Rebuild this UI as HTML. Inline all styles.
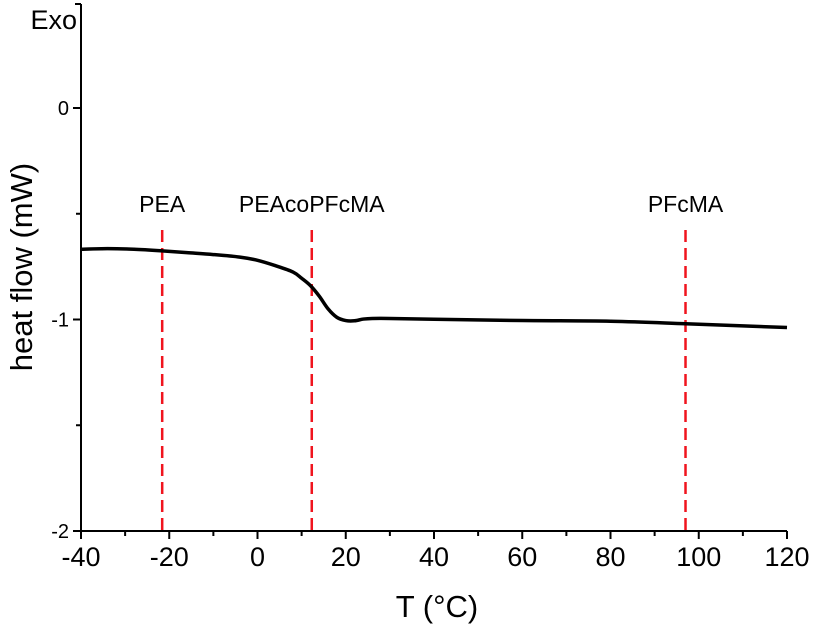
<!DOCTYPE html>
<html><head><meta charset="utf-8"><style>
html,body{margin:0;padding:0;background:#fff;}
svg{display:block;font-family:"Liberation Sans",Arial,sans-serif;}
</style></head><body>
<svg id="chart" width="814" height="633">
<g id="axes"></g><g id="marks"></g>
<text x="77" y="29" font-size="27" text-anchor="end">Exo</text>
<text x="437" y="617" font-size="31" text-anchor="middle">T (°C)</text>
<text transform="translate(32,267) rotate(-90)" font-size="31" text-anchor="middle">heat flow (mW)</text>
</svg>
<script>
const xTicks = [-40,-20,0,20,40,60,80,100,120];
const yTicks = [0,-1,-2];
const curveT = [-40,-34,-28,-22,-16,-10,-4,0,4,8,10,12,14,16,18,20,22,24,26,30,40,60,80,97,110,120];
const curveHF = [-0.668,-0.665,-0.668,-0.675,-0.684,-0.693,-0.705,-0.72,-0.745,-0.775,-0.805,-0.84,-0.89,-0.95,-0.99,-1.005,-1.006,-0.998,-0.995,-0.995,-0.999,-1.005,-1.008,-1.02,-1.03,-1.038];
const markerNames = ["PEA","PEAcoPFcMA","PFcMA"];
const markerT = [-21.6,12.3,97];
const NS="http://www.w3.org/2000/svg";
const X0=81,X1=787,Y0=108,YU=211.5;
function sx(t){return X0+(t+40)/160*(X1-X0);}
function sy(v){return Y0-v*YU;}
function mk(tag,attrs,parent){const e=document.createElementNS(NS,tag);for(const k in attrs)e.setAttribute(k,attrs[k]);parent.appendChild(e);return e;}
const axes=document.getElementById('axes'),marks=document.getElementById('marks');
const bottom=sy(-2);
let a=mk('path',{d:`M${X0},4 H${X0-6} M${X0},4 V${bottom} H${X1}`,stroke:'#000','stroke-width':2,fill:'none'},axes);


for(let t=-40;t<=120;t+=10){
  const major=(t%20===0);
  const tk=mk('line',{x1:sx(t),x2:sx(t),y1:bottom,y2:bottom+(major?8:5),stroke:'#000','stroke-width':2},axes);
  
  
}
xTicks.forEach(t=>{
  const l=mk('text',{x:sx(t),y:bottom+35,'font-size':27,'text-anchor':'middle'},axes);
  l.textContent=t;
  
  
});
for(let v=0;v>=-2;v-=0.5){
  const major=(Math.abs(v%1)<1e-9);
  const tk=mk('line',{x1:X0,x2:X0-(major?8:5),y1:sy(v),y2:sy(v),stroke:'#000','stroke-width':2},axes);
  
  
}
yTicks.forEach(v=>{
  const l=mk('text',{x:X0-12,y:sy(v)+7,'font-size':20,'text-anchor':'end'},axes);
  l.textContent=v;
  
  
});
markerT.forEach((t,i)=>{
  const ln=mk('line',{x1:sx(t),x2:sx(t),y1:230,y2:bottom,stroke:'#f0141e','stroke-width':2.5,'stroke-dasharray':'12,6'},marks);
  
  
  const tx=mk('text',{x:sx(t),y:212,'font-size':23,'text-anchor':'middle'},marks);
  tx.textContent=markerNames[i];
  
  
});
const pts=curveT.map((t,i)=>[sx(t),sy(curveHF[i])]);
let d=`M${pts[0][0]},${pts[0][1]}`;
for(let i=0;i<pts.length-1;i++){
  const p0=pts[Math.max(0,i-1)],p1=pts[i],p2=pts[i+1],p3=pts[Math.min(pts.length-1,i+2)];
  const c1=[p1[0]+(p2[0]-p0[0])/6,p1[1]+(p2[1]-p0[1])/6];
  const c2=[p2[0]-(p3[0]-p1[0])/6,p2[1]-(p3[1]-p1[1])/6];
  d+=` C${c1[0]},${c1[1]} ${c2[0]},${c2[1]} ${p2[0]},${p2[1]}`;
}
const c=mk('path',{d:d,stroke:'#000','stroke-width':3.5,fill:'none','stroke-linejoin':'round'},marks);


</script>
</body></html>
